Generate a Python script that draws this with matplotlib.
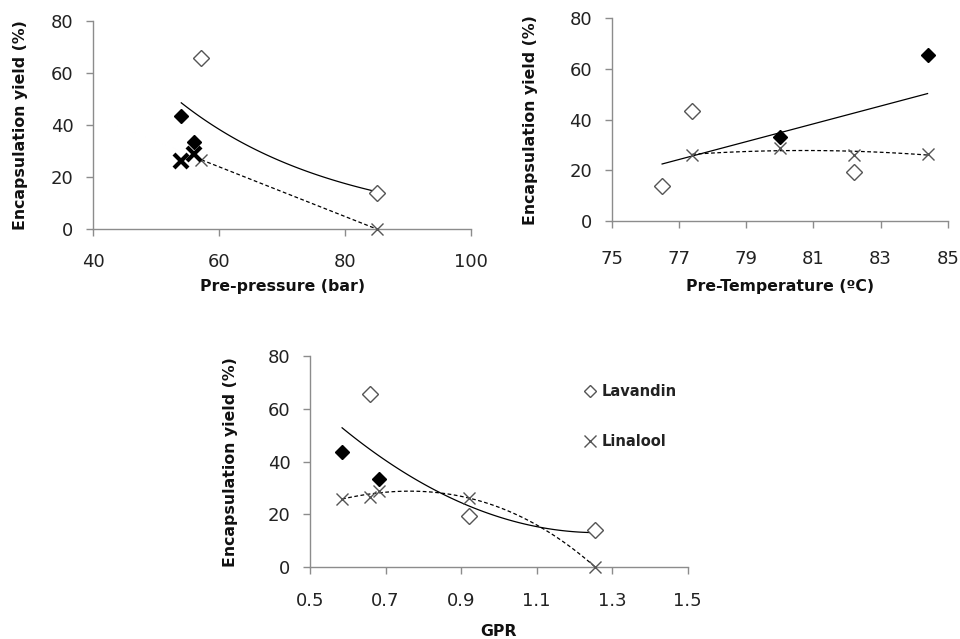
import numpy as np
import matplotlib
matplotlib.use("Agg")
import matplotlib.pyplot as plt
from matplotlib.lines import Line2D

plt.rcParams['font.family'] = ['DejaVu Sans']

# ---------------- data ----------------
# Pre-pressure panel
p_lav_open_x = [57.2, 85.0]
p_lav_open_y = [65.6, 14.0]
p_lav_fill_x = [54.0, 56.0]
p_lav_fill_y = [43.5, 33.5]
p_lin_bold_x = [54.0, 56.0]
p_lin_bold_y = [26.0, 29.0]
p_lin_x = [57.2, 85.0]
p_lin_y = [26.6, 0.0]

# Pre-temperature panel
t_lav_open_x = [76.5, 77.4, 82.2]
t_lav_open_y = [14.0, 43.5, 19.5]
t_lav_fill_x = [80.0, 84.4]
t_lav_fill_y = [33.3, 65.6]
t_lin_x = [77.4, 80.0, 82.2, 84.4]
t_lin_y = [26.0, 29.0, 26.2, 26.5]

# GPR panel
g_lav_open_x = [0.658, 0.92, 1.256]
g_lav_open_y = [65.6, 19.5, 14.0]
g_lav_fill_x = [0.585, 0.683]
g_lav_fill_y = [43.5, 33.5]
g_lin_x = [0.585, 0.658, 0.683, 0.92, 1.256]
g_lin_y = [26.0, 26.8, 29.0, 26.2, 0.0]

ylabel = 'Encapsulation yield (%)'
axis_col = '#8c8c8c'
mark_col = '#555555'
lab_size = 11.3


def style_axes(ax, xlim, xticks, xticklabels, ylab_x, xpad=12):
    ax.set_xlim(*xlim)
    ax.set_ylim(0, 80)
    ax.set_xticks(xticks)
    ax.set_xticklabels(xticklabels)
    ax.set_yticks([0, 20, 40, 60, 80])
    for s in ['top', 'right']:
        ax.spines[s].set_visible(False)
    for s in ['left', 'bottom']:
        ax.spines[s].set_color(axis_col)
        ax.spines[s].set_linewidth(1.0)
    ax.tick_params(axis='both', colors=axis_col, labelcolor='#222222',
                   labelsize=13, length=5, width=1, direction='out')
    ax.tick_params(axis='x', pad=xpad)
    ax.tick_params(axis='y', pad=9)
    ax.set_ylabel(ylabel, fontsize=lab_size, fontweight='bold', color='#111111')
    ax.yaxis.set_label_coords(ylab_x, 0.5)


def lavandin(ax, ox, oy, fx, fy):
    ax.plot(ox, oy, 'D', ms=8, mfc='white', mec=mark_col, mew=1.0,
            linestyle='none', clip_on=False, zorder=4)
    ax.plot(fx, fy, 'D', ms=7, mfc='black', mec='black',
            linestyle='none', clip_on=False, zorder=4)


def linalool(ax, x, y):
    ax.plot(x, y, 'x', ms=9, mec=mark_col, mew=1.0,
            linestyle='none', clip_on=False, zorder=4)


fig = plt.figure(figsize=(9.6, 6.39), dpi=100)

# ---------------- Pre-pressure ----------------
ax1 = fig.add_axes([0.0969, 0.6416, 0.394, 0.3255])
lavandin(ax1, p_lav_open_x, p_lav_open_y, p_lav_fill_x, p_lav_fill_y)
linalool(ax1, p_lin_x, p_lin_y)
ax1.plot(p_lin_bold_x, p_lin_bold_y, 'x', ms=10, mec='black', mew=3,
         linestyle='none', zorder=5)

# exponential trend of all lavandin points
lx = np.array(p_lav_open_x + p_lav_fill_x)
ly = np.array(p_lav_open_y + p_lav_fill_y)
b, a = np.polyfit(lx, np.log(ly), 1)
xx = np.linspace(lx.min(), lx.max(), 100)
ax1.plot(xx, np.exp(a + b * xx), color='black', lw=0.9)
# linear trend of linalool
c = np.polyfit(p_lin_x, p_lin_y, 1)
xx = np.linspace(min(p_lin_x), max(p_lin_x), 50)
ax1.plot(xx, np.polyval(c, xx), color='black', lw=0.9, ls=(0, (3, 2)))

style_axes(ax1, (40, 100), [40, 60, 80, 100], ['40', '60', '80', '100'], -0.172)
ax1.set_xlabel('Pre-pressure (bar)', fontsize=lab_size, fontweight='bold',
               color='#111111', labelpad=6)

# ---------------- Pre-temperature ----------------
ax2 = fig.add_axes([0.6372, 0.6541, 0.35, 0.3172])
lavandin(ax2, t_lav_open_x, t_lav_open_y, t_lav_fill_x, t_lav_fill_y)
linalool(ax2, t_lin_x, t_lin_y)

lx = np.array(t_lav_open_x + t_lav_fill_x)
ly = np.array(t_lav_open_y + t_lav_fill_y)
c = np.polyfit(lx, ly, 1)
xx = np.linspace(lx.min(), lx.max(), 50)
ax2.plot(xx, np.polyval(c, xx), color='black', lw=0.9)
c = np.polyfit(t_lin_x, t_lin_y, 2)
xx = np.linspace(min(t_lin_x), max(t_lin_x), 100)
ax2.plot(xx, np.polyval(c, xx), color='black', lw=0.9, ls=(0, (3, 2)))

style_axes(ax2, (75, 85), [75, 77, 79, 81, 83, 85],
           ['75', '77', '79', '81', '83', '85'], -0.219, xpad=16)
ax2.set_xlabel('Pre-Temperature (ºC)', fontsize=lab_size, fontweight='bold',
               color='#111111', labelpad=8)

# ---------------- GPR ----------------
ax3 = fig.add_axes([0.3229, 0.1122, 0.3934, 0.3307])
lavandin(ax3, g_lav_open_x, g_lav_open_y, g_lav_fill_x, g_lav_fill_y)
linalool(ax3, g_lin_x, g_lin_y)

lx = np.array(g_lav_open_x + g_lav_fill_x)
ly = np.array(g_lav_open_y + g_lav_fill_y)
c = np.polyfit(lx, ly, 2)
xx = np.linspace(lx.min(), lx.max(), 100)
ax3.plot(xx, np.polyval(c, xx), color='black', lw=0.9)
c = np.polyfit(g_lin_x, g_lin_y, 3)
xx = np.linspace(min(g_lin_x), max(g_lin_x), 100)
ax3.plot(xx, np.polyval(c, xx), color='black', lw=0.9, ls=(0, (3, 2)))

style_axes(ax3, (0.5, 1.5), [0.5, 0.7, 0.9, 1.1, 1.3, 1.5],
           ['0.5', '0.7', '0.9', '1.1', '1.3', '1.5'], -0.19, xpad=13)
ax3.set_xlabel('GPR', fontsize=lab_size, fontweight='bold',
               color='#111111', labelpad=10)

handles = [
    Line2D([], [], marker='D', ms=6, mfc='white', mec=mark_col, ls='none'),
    Line2D([], [], marker='x', ms=9, mec=mark_col, ls='none'),
]
leg = ax3.legend(handles, ['Lavandin', 'Linalool'], loc='upper left',
                 bbox_to_anchor=(0.688, 0.93), frameon=False,
                 labelspacing=2.4, handletextpad=0.3, handlelength=1.0,
                 prop={'size': 10.5, 'weight': 'bold'})
for t in leg.get_texts():
    t.set_color('#222222')

fig.savefig('out.png', dpi=100, facecolor='white')
